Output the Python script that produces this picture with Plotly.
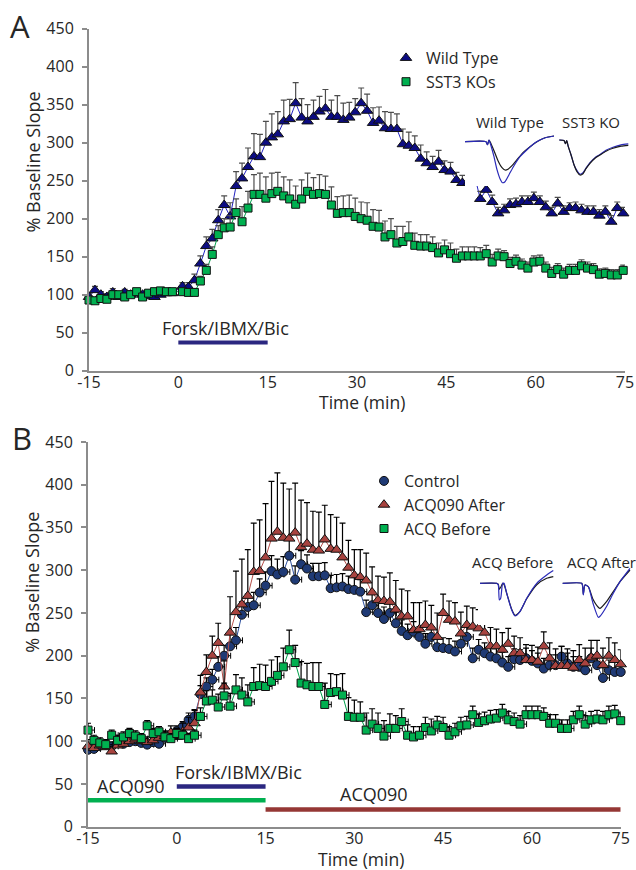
import numpy as np
import plotly.graph_objects as go

FONT = "Open Sans"
TXT = "#262626"

# ---------------- Panel A data ----------------
time_a = np.concatenate([np.arange(-15, 0), np.arange(0.7, 75, 1.0)])
wt_mean = [97, 106, 100, 97, 103, 97, 103, 100, 102, 100, 98, 97, 100, 102, 102,
           111, 110, 119, 141, 164, 174, 198, 218, 203, 243,
           253, 268, 282, 281, 300, 307, 311, 328, 331, 352,
           333, 328, 334, 341, 345, 334, 334, 330, 333, 340,
           352, 342, 326, 329, 319, 318, 318, 298, 296, 293,
           279, 273, 268, 275, 264, 262, 251, 247, 247, 258,
           226, 238, 222, 207, 211, 218, 219, 222, 222, 227,
           222, 215, 207, 220, 209, 214, 214, 211, 209, 209,
           204, 209, 196, 214, 207]
wt_err = [4, 5, 4, 4, 5, 4, 4, 5, 4, 4, 4, 4, 4, 4, 4,
          5, 6, 8, 10, 12, 12, 14, 12, 18, 19,
          20, 25, 30, 30, 28, 31, 30, 28, 26, 27,
          25, 22, 22, 20, 25, 22, 28, 22, 20, 18,
          20, 22, 20, 18, 22, 22, 20, 20, 18, 16,
          18, 15, 14, 15, 12, 12, 10, 10, 10, 10,
          10, 9, 9, 8, 8, 8, 8, 8, 8, 8,
          8, 8, 8, 8, 8, 7, 8, 8, 8, 8,
          8, 8, 8, 8, 8]
ko_mean = [93, 92, 95, 94, 100, 100, 97, 100, 104, 97, 102, 104, 105, 104, 104,
           104, 103, 103, 118, 132, 153, 179, 188, 189, 208,
           196, 214, 232, 232, 227, 233, 236, 230, 226, 219,
           226, 236, 232, 233, 232, 218, 207, 208, 208, 203,
           200, 198, 190, 189, 176, 179, 168, 170, 176, 165,
           164, 164, 162, 155, 159, 154, 148, 151, 151, 151,
           151, 154, 143, 151, 150, 141, 144, 139, 135, 143,
           144, 135, 128, 133, 127, 132, 132, 138, 135, 133,
           127, 128, 126, 126, 132]
ko_err = [4, 4, 4, 4, 4, 4, 4, 4, 4, 4, 4, 4, 4, 4, 4,
          5, 5, 5, 6, 8, 10, 12, 12, 15, 18,
          20, 22, 26, 28, 28, 27, 25, 25, 25, 24,
          25, 24, 22, 25, 24, 24, 22, 22, 23, 24,
          22, 23, 22, 22, 21, 21, 22, 20, 20, 16,
          15, 15, 14, 13, 13, 14, 12, 12, 12, 12,
          11, 11, 10, 9, 8, 8, 8, 8, 8, 8,
          8, 8, 8, 8, 8, 8, 8, 8, 8, 8,
          7, 7, 7, 7, 7]

# ---------------- Panel B data ----------------
time_b = np.arange(-15, 76)
ctrl_mean = [90, 91, 95, 96, 94, 98, 97, 99, 100, 98, 96, 99, 97, 104, 106,
             112, 117, 125, 129, 155, 164, 172, 187, 200, 211,
             218, 248, 257, 259, 274, 282, 299, 295, 298, 317,
             289, 307, 302, 293, 293, 294, 279, 280, 281, 278,
             277, 275, 251, 259, 250, 243, 250, 238, 229, 224,
             228, 222, 214, 222, 210, 209, 208, 205, 214, 222,
             197, 207, 203, 199, 197, 192, 187, 196, 195, 197,
             194, 191, 185, 189, 189, 199, 191, 187, 187, 183,
             197, 189, 174, 183, 181, 181]
ctrl_err = [5] * 15 + [6, 6, 8, 8, 10, 10, 12, 12, 12, 14,
                       15, 15, 15, 15, 16, 16, 18, 18, 18, 18,
                       16, 16, 16, 15, 15, 15, 15, 15, 15, 15,
                       15, 14, 14, 14, 14, 14, 14, 13, 13, 13,
                       12, 12, 12, 12, 12, 12, 12, 12, 12, 12,
                       12, 12, 12, 12, 12, 12, 12, 12, 12, 12,
                       12, 12, 12, 12, 12, 12, 12, 12, 12, 12,
                       12, 12, 12, 12, 12, 12]
after_mean = [94, 92, 95, 93, 88, 95, 97, 100, 102, 100, 99, 101, 104, 106, 110,
              105, 111, 116, 121, 157, 181, 200, 215, 164, 227,
              251, 260, 270, 298, 299, 315, 337, 345, 338, 337,
              344, 327, 331, 324, 323, 336, 325, 324, 315, 303,
              294, 292, 288, 274, 265, 264, 263, 254, 246, 246,
              230, 231, 236, 233, 222, 250, 242, 240, 226, 236,
              234, 232, 227, 211, 211, 207, 214, 203, 203, 195,
              195, 193, 211, 197, 188, 188, 188, 186, 195, 191,
              198, 200, 189, 200, 195, 190]
after_err = [8, 6, 6, 6, 6, 6, 6, 6, 6, 6, 6, 6, 6, 6, 8,
             10, 10, 12, 15, 20, 20, 23, 23, 30, 42,
             48, 53, 54, 57, 60, 63, 67, 69, 64, 58,
             58, 55, 48, 45, 45, 40, 40, 38, 40, 32,
             30, 32, 32, 30, 28, 28, 34, 34, 32, 30,
             32, 31, 28, 26, 28, 22, 22, 22, 25, 22,
             22, 22, 22, 22, 20, 20, 18, 20, 18, 18,
             17, 17, 17, 18, 20, 23, 20, 20, 18, 18,
             20, 18, 20, 21, 20, 17]
before_mean = [113, 101, 98, 96, 107, 101, 105, 109, 106, 103, 118, 109, 111, 105, 103,
               109, 107, 103, 107, 129, 147, 148, 140, 153, 141,
               160, 154, 146, 164, 165, 164, 170, 177, 187, 207,
               192, 168, 166, 164, 164, 143, 157, 158, 154, 129,
               128, 128, 113, 120, 115, 106, 115, 115, 123, 107,
               105, 107, 116, 112, 119, 116, 107, 111, 118, 119,
               131, 122, 124, 126, 127, 133, 125, 123, 120, 131,
               131, 131, 129, 121, 121, 115, 115, 125, 131, 120,
               125, 126, 125, 131, 132, 124]
before_err = [8] + [6] * 14 + [6, 6, 6, 6, 10, 12, 12, 15, 15, 15,
                               18, 20, 20, 22, 25, 25, 25, 22, 22, 23,
                               20, 25, 25, 28, 28, 25, 22, 20, 25, 22,
                               20, 18, 20, 18, 18, 18, 17, 15, 15, 12,
                               12, 10, 12, 14, 10, 12, 10, 10, 10, 10] + [10] * 26

# treatment windows (min) and bar heights (% baseline)
forsk_window = [0, 15]
acq_pre_window = [-15, 15]
acq_post_window = [15, 75]
bar_level_a = 37
bar_levels_b = {"forsk": 47, "acq_pre": 31, "acq_post": 20}

# axis ticks
x_ticks = [-15, 0, 15, 30, 45, 60, 75]
x_tick_text = ["-15", "0", "15", "30", "45", "60", "75"]

# ---------------- inset waveforms (sample index, amplitude) ----------------
wt_x_black = [0, 21, 22.5, 24, 26, 29, 33, 37, 40, 43, 47, 52, 58, 65, 72, 80, 89]
wt_y_black = [0, 0, -3, 1.5, -2, -9, -19, -26, -28.3, -27.5, -24, -18, -11, -5, 0, 4, 5.7]
wt_x_blue = [0, 21, 22.5, 24, 26, 29, 32, 35, 37.5, 40, 44, 49, 55, 62, 70, 79, 89]
wt_y_blue = [0, 0, -3, 1.5, -4, -15, -28, -37, -41, -40, -33, -24, -15, -8, -1, 3.5, 5.7]
ko_x = [94.3, 99, 100.5, 101.7, 103.3, 106, 109, 112, 115, 118, 121, 125, 130, 135, 141, 148, 156, 163.3]
ko_y_black = [1.7, 1.2, -2, 1, -5, -13, -23, -30, -33.3, -32, -27, -21.6, -16.5, -13.3, -9.5, -6.6, -4.5, -3.6]
ko_y_blue = [1.7, 1.2, -2, 1, -5, -13, -23, -29, -32.5, -31, -26.5, -21, -16, -12.8, -8.5, -5.6, -3.2, -2.2]

bef_x = [0, 16.7, 18.3, 19.3, 20.7, 22.7, 24, 26.7, 31.7, 35, 40, 46.7, 56.7, 66.7, 73.3]
bef_y_blue = [0, 0, -1.7, -16.7, -15, 0, 0, -10, -26.7, -32.7, -28.3, -15, 0, 8.3, 12.7]
bef_y_black = [0, 0, -1, -6, -4, 0, -1, -10, -26, -32, -28, -15.5, -1.5, 5, 6.7]
aft_x = [82.7, 101.7, 102.7, 103.3, 105, 108.3, 113, 118.3, 120, 126.7, 133.3, 140, 150]
aft_y_blue = [0, 0, -3, -11.7, -1.7, -3.3, -20, -34, -33, -23, -10, 1.7, 15]
aft_y_black = [0, 0, -3, -11, -1.7, -3.3, -16, -24, -25, -18, -8.3, 1.7, 13.3]

# ---------------- colours ----------------
NAVY_BAR = "#2b2780"
GREEN = "#00b050"
BROWN = "#953735"
WT_FILL = "#0c0c82"
CTRL_FILL = "#1f3a75"
AFTER_FILL = "#a8433f"

fig = go.Figure()


def series(x, y, err, xa, ya, name, symbol, size, fill, linecol, errcol, legend,
           xerr=False):
    fig.add_trace(go.Scatter(x=x, y=y, mode="lines", xaxis=xa, yaxis=ya,
                             line=dict(color=linecol, width=1), showlegend=False,
                             hoverinfo="skip", cliponaxis=False))
    ex = None
    if xerr:
        ex = dict(type="constant", value=1.1, symmetric=False, valueminus=0,
                  color=errcol, thickness=1, width=3)
    fig.add_trace(go.Scatter(
        x=x, y=y, mode="markers", name=name, xaxis=xa, yaxis=ya, legend=legend,
        cliponaxis=False,
        marker=dict(symbol=symbol, size=size, color=fill,
                    line=dict(color="#111111", width=1)),
        error_y=dict(type="data", array=err, arrayminus=[0] * len(err),
                     symmetric=False, color=errcol, thickness=1.2, width=3),
        error_x=ex))


# panel A
series(time_a, wt_mean, wt_err, "x", "y", "Wild Type", "triangle-up", 10,
       WT_FILL, "#2222c0", "#4d4d4d", "legend")
series(time_a, ko_mean, ko_err, "x", "y", "SST3 KOs", "square", 8,
       GREEN, "#00a04a", "#4d4d4d", "legend")
# treatment bar is placed on the label-carrying overlay axis x5 (same range as x)
fig.add_trace(go.Scatter(x=forsk_window, y=[bar_level_a] * 2, mode="lines",
                         xaxis="x5", yaxis="y", line=dict(color=NAVY_BAR, width=4),
                         showlegend=False, hoverinfo="skip"))

# panel B
series(time_b, ctrl_mean, ctrl_err, "x2", "y2", "Control", "circle", 9,
       CTRL_FILL, "#2c4f9e", "#000000", "legend2", xerr=True)
series(time_b, after_mean, after_err, "x2", "y2", "ACQ090 After", "triangle-up", 10,
       AFTER_FILL, "#b5504b", "#000000", "legend2")
series(time_b, before_mean, before_err, "x2", "y2", "ACQ Before", "square", 8,
       GREEN, "#00a04a", "#000000", "legend2", xerr=True)
for win, lvl, col in [(forsk_window, bar_levels_b["forsk"], NAVY_BAR),
                      (acq_pre_window, bar_levels_b["acq_pre"], GREEN),
                      (acq_post_window, bar_levels_b["acq_post"], BROWN)]:
    fig.add_trace(go.Scatter(x=win, y=[lvl] * 2, mode="lines", xaxis="x6", yaxis="y2",
                             line=dict(color=col, width=4.5), showlegend=False,
                             hoverinfo="skip", cliponaxis=False))

# insets
for xs, ys, col, xa, ya in [
        (wt_x_black, wt_y_black, "#1a1a1a", "x3", "y3"),
        (wt_x_blue, wt_y_blue, "#2a2ab8", "x3", "y3"),
        (ko_x, ko_y_blue, "#2a2ab8", "x3", "y3"),
        (ko_x, ko_y_black, "#1a1a1a", "x3", "y3"),
        (bef_x, bef_y_black, "#1a1a1a", "x4", "y4"),
        (bef_x, bef_y_blue, "#2a2ab8", "x4", "y4"),
        (aft_x, aft_y_black, "#1a1a1a", "x4", "y4"),
        (aft_x, aft_y_blue, "#2a2ab8", "x4", "y4")]:
    fig.add_trace(go.Scatter(x=xs, y=ys, mode="lines", xaxis=xa, yaxis=ya,
                             line=dict(color=col, width=1.2, shape="spline", smoothing=0.6),
                             showlegend=False, hoverinfo="skip", cliponaxis=False))

W, H = 636, 870
AX = "#8c8c8c"
LIFT = 0  # px offset of the label-only x axes
yA0, yA1 = 1 - 370.7 / H, 1 - 28.7 / H
yB0, yB1 = 1 - 826.7 / H, 1 - 442 / H
xA = [89 / W, 625 / W]
xB = [88 / W, 620.7 / W]
tickfont = dict(family=FONT, size=16, color=TXT)
common = dict(showgrid=False, zeroline=False, automargin=False, fixedrange=True)
x_main = dict(common, showline=True, linecolor=AX, linewidth=2, ticks="",
              showticklabels=False, range=[-15, 75])
x_lab = dict(common, showline=False, ticks="", ticklen=0, range=[-15, 75],
             tickvals=x_ticks, ticktext=x_tick_text, tickfont=tickfont, anchor="free")
y_main = dict(common, showline=True, linecolor=AX, linewidth=2, ticks="outside",
              ticklen=5, tickwidth=2, tickcolor=AX, ticklabelstandoff=5,
              tickfont=tickfont, range=[0, 450], dtick=50)
hidden = dict(visible=False, showgrid=False, zeroline=False, fixedrange=True, automargin=False)

fig.update_layout(
    width=W, height=H, autosize=False,
    margin=dict(l=0, r=0, t=0, b=0, pad=0),
    paper_bgcolor="white", plot_bgcolor="white",
    font=dict(family=FONT, color=TXT),
    xaxis=dict(domain=xA, anchor="y", **x_main),
    yaxis=dict(domain=[yA0, yA1], anchor="x", **y_main),
    xaxis2=dict(domain=xB, anchor="y2", **x_main),
    yaxis2=dict(domain=[yB0, yB1], anchor="x2", **y_main),
    xaxis5=dict(domain=xA, overlaying="x", position=yA0 + LIFT / H, **x_lab),
    xaxis6=dict(domain=xB, overlaying="x2", position=yB0 + LIFT / H, **x_lab),
    xaxis3=dict(domain=[465 / W, 632 / W], range=[0, 167], anchor="y3", **hidden),
    yaxis3=dict(domain=[1 - 186 / H, 1 - 112 / H], range=[-44.3, 29.7], anchor="x3", **hidden),
    xaxis4=dict(domain=[478 / W, 634 / W], range=[-2, 154], anchor="y4", **hidden),
    yaxis4=dict(domain=[1 - 625 / H, 1 - 550 / H], range=[-41.7, 33.3], anchor="x4", **hidden),
    legend=dict(x=386 / W, y=1 - 41 / H, xanchor="left", yanchor="top",
                font=dict(family=FONT, size=16, color=TXT), bgcolor="rgba(0,0,0,0)",
                itemwidth=30, tracegroupgap=0),
    legend2=dict(x=364 / W, y=1 - 464 / H, xanchor="left", yanchor="top",
                 font=dict(family=FONT, size=16, color=TXT), bgcolor="rgba(0,0,0,0)",
                 itemwidth=30, tracegroupgap=0),
    showlegend=True,
)

shapes = []
for xa, ya in [("x", "y"), ("x2", "y2")]:
    for t in x_ticks:
        shapes.append(dict(type="line", xref=xa, yref=ya, x0=t, x1=t,
                           ysizemode="pixel", yanchor=0, y0=-1, y1=-6,
                           line=dict(color=AX, width=2), layer="above"))
fig.update_layout(shapes=shapes)

ann = []


def paper_text(text, x, y, size, angle=0):
    ann.append(dict(text=text, x=x / W, y=1 - y / H, xref="paper", yref="paper",
                    showarrow=False, xanchor="center", yanchor="middle", textangle=angle,
                    font=dict(family=FONT, size=size, color=TXT)))


def data_text(text, x, y, xr, yr, size):
    ann.append(dict(text=text, x=x, y=y, xref=xr, yref=yr, showarrow=False,
                    xanchor="center", yanchor="middle",
                    font=dict(family=FONT, size=size, color=TXT)))


paper_text("A", 20, 26, 31)
paper_text("B", 21.5, 438, 31)
paper_text("% Baseline Slope", 32, 162.5, 18, -90)
paper_text("% Baseline Slope", 32, 582.7, 18, -90)
paper_text("Time (min)", 362, 402, 17.5)
paper_text("Time (min)", 360.5, 859, 17.5)
data_text("Forsk/IBMX/Bic", 8, 55.8, "x", "y", 18)
data_text("ACQ090", -7.8, 47.6, "x2", "y2", 18)
data_text("Forsk/IBMX/Bic", 10.5, 64.3, "x2", "y2", 18)
data_text("ACQ090", 33.4, 38.2, "x2", "y2", 18)
data_text("Wild Type", 45, 20, "x3", "y3", 15)
data_text("SST3 KO", 126, 20, "x3", "y3", 15)
data_text("ACQ Before", 32.5, 21.6, "x4", "y4", 15)
data_text("ACQ After", 121, 21.6, "x4", "y4", 15)
fig.update_layout(annotations=ann)

fig.write_html("out.html")
